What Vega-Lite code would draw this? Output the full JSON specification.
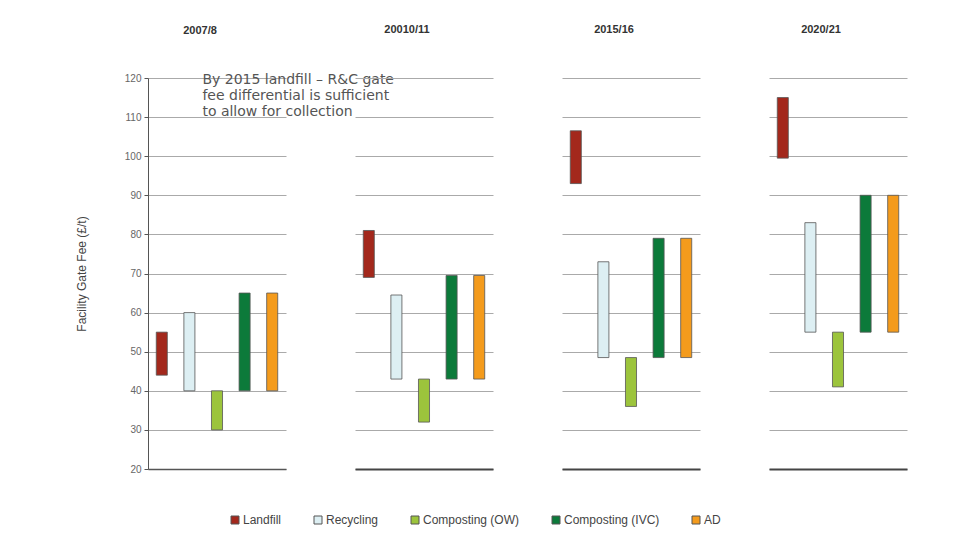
{
  "$schema": "https://vega.github.io/schema/vega-lite/v6.json",
  "padding": {"left": 75, "top": 24, "right": 5, "bottom": 5},
  "background": "white",
  "datasets": {
    "fees": [
      {"period": "2007/8", "type": "Landfill", "low": 44, "high": 55},
      {"period": "2007/8", "type": "Recycling", "low": 40, "high": 60},
      {"period": "2007/8", "type": "Composting (OW)", "low": 30, "high": 40},
      {"period": "2007/8", "type": "Composting (IVC)", "low": 40, "high": 65},
      {"period": "2007/8", "type": "AD", "low": 40, "high": 65},
      {"period": "20010/11", "type": "Landfill", "low": 69, "high": 81},
      {"period": "20010/11", "type": "Recycling", "low": 43, "high": 64.5},
      {"period": "20010/11", "type": "Composting (OW)", "low": 32, "high": 43},
      {"period": "20010/11", "type": "Composting (IVC)", "low": 43, "high": 69.5},
      {"period": "20010/11", "type": "AD", "low": 43, "high": 69.5},
      {"period": "2015/16", "type": "Landfill", "low": 93, "high": 106.5},
      {"period": "2015/16", "type": "Recycling", "low": 48.5, "high": 73},
      {"period": "2015/16", "type": "Composting (OW)", "low": 36, "high": 48.5},
      {"period": "2015/16", "type": "Composting (IVC)", "low": 48.5, "high": 79},
      {"period": "2015/16", "type": "AD", "low": 48.5, "high": 79},
      {"period": "2020/21", "type": "Landfill", "low": 99.5, "high": 115},
      {"period": "2020/21", "type": "Recycling", "low": 55, "high": 83},
      {"period": "2020/21", "type": "Composting (OW)", "low": 41, "high": 55},
      {"period": "2020/21", "type": "Composting (IVC)", "low": 55, "high": 90},
      {"period": "2020/21", "type": "AD", "low": 55, "high": 90}
    ],
    "note": [
      {"type": "Recycling", "y": 120}
    ]
  },
  "spacing": 69,
  "bounds": "flush",
  "hconcat": [
    {
      "width": 138, "height": 391,
      "title": {"text": "2007/8", "dx": -17, "offset": 37},
      "layer": [
        {
          "data": {"name": "fees"},
          "transform": [{"filter": "datum.period === '2007/8'"}],
          "mark": {"type": "bar", "stroke": "#555555", "strokeWidth": 0.8},
          "encoding": {
            "x": {"field": "type", "type": "nominal", "sort": ["Landfill", "Recycling", "Composting (OW)", "Composting (IVC)", "AD"],
                  "scale": {"domain": ["Landfill", "Recycling", "Composting (OW)", "Composting (IVC)", "AD"], "paddingInner": 0.6, "paddingOuter": 0.3},
                  "axis": {"title": null, "labels": false, "ticks": false, "domain": true, "domainColor": "#555555", "domainWidth": 1.5}},
            "y": {"field": "low", "type": "quantitative", "scale": {"domain": [20, 120], "nice": false},
                  "axis": {"title": "Facility Gate Fee (£/t)", "values": [20, 30, 40, 50, 60, 70, 80, 90, 100, 110, 120], "labelOverlap": false, "grid": true, "domain": true, "domainColor": "#555555", "ticks": true, "tickSize": 4, "tickColor": "#555555", "labelFontSize": 10, "labelColor": "#666666", "labelPadding": 3, "titleFontSize": 12, "titleFontWeight": "normal", "titleColor": "#444444", "titlePadding": 36}},
            "y2": {"field": "high"},
            "color": {"field": "type", "type": "nominal",
                      "scale": {"domain": ["Landfill", "Recycling", "Composting (OW)", "Composting (IVC)", "AD"], "range": ["#A3281C", "#DDEFF3", "#9CC43C", "#0C7A3A", "#F49B1C"]},
                      "legend": {"title": null, "orient": "none", "legendX": 81, "legendY": 436, "direction": "horizontal", "symbolType": "square", "symbolSize": 64, "symbolStrokeColor": "#555555", "symbolStrokeWidth": 1, "labelFontSize": 12, "labelColor": "#444444", "labelOffset": 2, "columnPadding": 30}}
          }
        },
        {
          "data": {"name": "note"},
          "mark": {"type": "text", "text": ["By 2015 landfill – R&C gate", "fee differential is sufficient", "to allow for collection"], "align": "left", "baseline": "top", "font": "DejaVu Sans", "fontSize": 14, "lineHeight": 16, "color": "#555555", "dx": 13, "dy": -5},
          "encoding": {
            "x": {"field": "type", "type": "nominal", "sort": ["Landfill", "Recycling", "Composting (OW)", "Composting (IVC)", "AD"]},
            "y": {"field": "y", "type": "quantitative",
                  "axis": {"title": "Facility Gate Fee (£/t)", "values": [20, 30, 40, 50, 60, 70, 80, 90, 100, 110, 120], "labelOverlap": false, "grid": true, "domain": true, "domainColor": "#555555", "ticks": true, "tickSize": 4, "tickColor": "#555555", "labelFontSize": 10, "labelColor": "#666666", "labelPadding": 3, "titleFontSize": 12, "titleFontWeight": "normal", "titleColor": "#444444", "titlePadding": 36}}
          }
        }
      ]
    },
    {
      "width": 138, "height": 391,
      "title": {"text": "20010/11", "dx": -17},
      "data": {"name": "fees"},
      "transform": [{"filter": "datum.period === '20010/11'"}],
      "mark": {"type": "bar", "stroke": "#555555", "strokeWidth": 0.8},
      "encoding": {
        "x": {"field": "type", "type": "nominal", "sort": ["Landfill", "Recycling", "Composting (OW)", "Composting (IVC)", "AD"],
              "scale": {"paddingInner": 0.6, "paddingOuter": 0.3},
              "axis": {"title": null, "labels": false, "ticks": false, "domain": true, "domainColor": "#444444", "domainWidth": 2}},
        "y": {"field": "low", "type": "quantitative", "scale": {"domain": [20, 120], "nice": false},
              "axis": {"title": null, "values": [20, 30, 40, 50, 60, 70, 80, 90, 100, 110, 120], "grid": true, "domain": false, "ticks": false, "labels": false}},
        "y2": {"field": "high"},
        "color": {"field": "type", "type": "nominal"}
      }
    },
    {
      "width": 138, "height": 391,
      "title": {"text": "2015/16", "dx": -17},
      "data": {"name": "fees"},
      "transform": [{"filter": "datum.period === '2015/16'"}],
      "mark": {"type": "bar", "stroke": "#555555", "strokeWidth": 0.8},
      "encoding": {
        "x": {"field": "type", "type": "nominal", "sort": ["Landfill", "Recycling", "Composting (OW)", "Composting (IVC)", "AD"],
              "scale": {"paddingInner": 0.6, "paddingOuter": 0.3},
              "axis": {"title": null, "labels": false, "ticks": false, "domain": true, "domainColor": "#444444", "domainWidth": 2}},
        "y": {"field": "low", "type": "quantitative", "scale": {"domain": [20, 120], "nice": false},
              "axis": {"title": null, "values": [20, 30, 40, 50, 60, 70, 80, 90, 100, 110, 120], "grid": true, "domain": false, "ticks": false, "labels": false}},
        "y2": {"field": "high"},
        "color": {"field": "type", "type": "nominal"}
      }
    },
    {
      "width": 138, "height": 391,
      "title": {"text": "2020/21", "dx": -17},
      "data": {"name": "fees"},
      "transform": [{"filter": "datum.period === '2020/21'"}],
      "mark": {"type": "bar", "stroke": "#555555", "strokeWidth": 0.8},
      "encoding": {
        "x": {"field": "type", "type": "nominal", "sort": ["Landfill", "Recycling", "Composting (OW)", "Composting (IVC)", "AD"],
              "scale": {"paddingInner": 0.6, "paddingOuter": 0.3},
              "axis": {"title": null, "labels": false, "ticks": false, "domain": true, "domainColor": "#444444", "domainWidth": 2}},
        "y": {"field": "low", "type": "quantitative", "scale": {"domain": [20, 120], "nice": false},
              "axis": {"title": null, "values": [20, 30, 40, 50, 60, 70, 80, 90, 100, 110, 120], "grid": true, "domain": false, "ticks": false, "labels": false}},
        "y2": {"field": "high"},
        "color": {"field": "type", "type": "nominal"}
      }
    }
  ],
  "config": {
    "font": "Liberation Sans",
    "view": {"stroke": null},
    "axis": {"gridColor": "#AAAAAA", "gridWidth": 1},
    "title": {"fontSize": 11, "fontWeight": "bold", "color": "#333333", "offset": 43}
  }
}
